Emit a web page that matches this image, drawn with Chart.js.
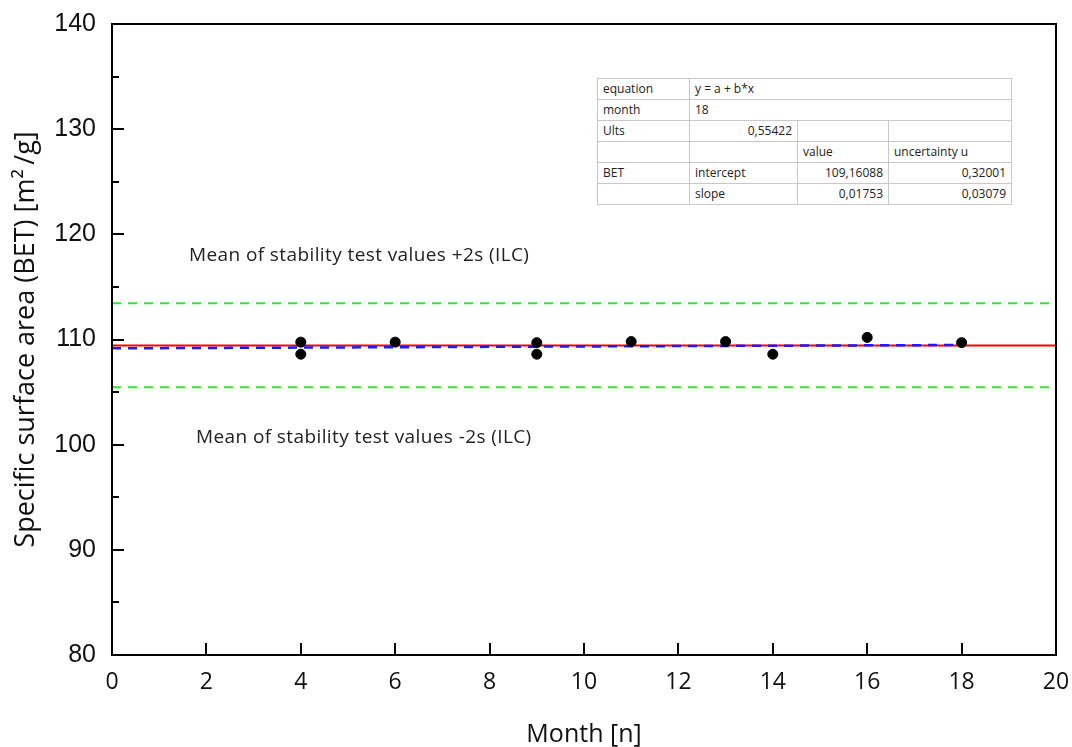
<!DOCTYPE html>
<html>
<head>
<meta charset="utf-8">
<script src="https://cdn.jsdelivr.net/npm/chart.js@4.4.1/dist/chart.umd.min.js"></script>
<style>
  html, body { margin: 0; padding: 0; background: #fff; }
  #wrap { position: relative; width: 1072px; height: 747px; }
  canvas { display: block; }
  .note { position: absolute; font-family: "Open Sans", sans-serif; font-size: 19px; letter-spacing: 0.4px; color: #222; white-space: nowrap; }
  #fit-table { position: absolute; left: 597px; top: 78px; border-collapse: collapse; border: 1px solid #000;
    font-family: "Open Sans", sans-serif; font-size: 12px; color: #222; background: #fff; }
  #fit-table td { border: 1px solid #c8c8c8; height: 20px; padding: 0 5px; line-height: 12px; }
  #fit-table td.num { text-align: right; }
</style>
</head>
<body>
<div id="wrap">
  <canvas id="chart" width="1072" height="747"></canvas>
  <div class="note" style="left:189px; top:241px;">Mean of stability test values +2s (ILC)</div>
  <div class="note" style="left:196px; top:423px;">Mean of stability test values -2s (ILC)</div>
  <table id="fit-table">
    <tr><td style="width:81px">equation</td><td colspan="3">y = a + b*x</td></tr>
    <tr><td>month</td><td colspan="3">18</td></tr>
    <tr><td>Ults</td><td class="num" style="width:97px">0,55422</td><td style="width:80px"></td><td style="width:112px"></td></tr>
    <tr><td></td><td></td><td>value</td><td>uncertainty u</td></tr>
    <tr><td>BET</td><td>intercept</td><td class="num">109,16088</td><td class="num">0,32001</td></tr>
    <tr><td></td><td>slope</td><td class="num">0,01753</td><td class="num">0,03079</td></tr>
  </table>
</div>
<script>
// measured stability values (month, BET)
const months = [4, 4, 6, 9, 9, 11, 13, 14, 16, 18];
const betValues = [109.75, 108.6, 109.75, 109.7, 108.6, 109.8, 109.8, 108.6, 110.2, 109.7];

// reference lines
const meanValue = 109.42;
const upperLimit = 113.45;
const lowerLimit = 105.45;
const fitX = [0, 18];
const fitY = [109.16, 109.48];

const xTicks = [0, 2, 4, 6, 8, 10, 12, 14, 16, 18, 20];
const yTicks = [80, 90, 100, 110, 120, 130, 140];

const hline = (v) => [{ x: 0, y: v }, { x: 20, y: v }];

// box frame + inward tick marks
const framePlugin = {
  id: "frame",
  afterDraw(chart) {
    const { ctx, chartArea: a, scales: { x, y } } = chart;
    ctx.save();
    ctx.strokeStyle = "#000";
    ctx.lineWidth = 2;
    ctx.strokeRect(a.left, a.top, a.right - a.left, a.bottom - a.top);
    ctx.beginPath();
    x.ticks.forEach((t) => {
      const px = Math.round(x.getPixelForValue(t.value));
      ctx.moveTo(px, a.bottom);
      ctx.lineTo(px, a.bottom - 12);
    });
    y.ticks.forEach((t) => {
      const py = Math.round(y.getPixelForValue(t.value));
      const len = t.value % 10 === 0 ? 12 : 7;
      ctx.moveTo(a.left, py);
      ctx.lineTo(a.left + len, py);
    });
    ctx.stroke();
    ctx.restore();
  },
};

new Chart(document.getElementById("chart"), {
  type: "scatter",
  data: {
    datasets: [
      {
        label: "+2s",
        data: hline(upperLimit),
        showLine: true,
        borderColor: "#2ee62e",
        borderWidth: 2,
        borderDash: [9, 7],
        pointRadius: 0,
        order: 4,
      },
      {
        label: "-2s",
        data: hline(lowerLimit),
        showLine: true,
        borderColor: "#2ee62e",
        borderWidth: 2,
        borderDash: [9, 7],
        pointRadius: 0,
        order: 3,
      },
      {
        label: "mean",
        data: hline(meanValue),
        showLine: true,
        borderColor: "#ff0000",
        borderWidth: 2,
        pointRadius: 0,
        order: 2,
      },
      {
        label: "fit",
        data: fitX.map((v, i) => ({ x: v, y: fitY[i] })),
        showLine: true,
        borderColor: "#1a1aff",
        borderWidth: 2.5,
        borderDash: [9, 7],
        pointRadius: 0,
        order: 1,
      },
      {
        label: "BET",
        data: months.map((m, i) => ({ x: m, y: betValues[i] })),
        backgroundColor: "#000",
        borderColor: "#000",
        pointRadius: 5,
        pointHoverRadius: 5,
        order: 0,
      },
    ],
  },
  options: {
    responsive: false,
    animation: false,
    events: [],
    layout: { padding: { top: 24, right: 16, bottom: 0, left: 0 } },
    plugins: { legend: { display: false }, tooltip: { enabled: false } },
    scales: {
      x: {
        type: "linear",
        min: 0,
        max: 20,
        afterBuildTicks: (s) => { s.ticks = xTicks.map((v) => ({ value: v })); },
        afterFit: (s) => { s.height = 92; s.paddingLeft = 0; s.paddingRight = 0; },
        grid: { display: false, drawTicks: false },
        border: { display: false },
        ticks: { color: "#111", padding: 14, maxRotation: 0, font: { family: "Open Sans", size: 23 } },
        title: {
          display: true,
          text: "Month [n]",
          color: "#111",
          font: { family: "Open Sans", size: 25, lineHeight: 1 },
          padding: { top: 4, bottom: 0 },
        },
      },
      y: {
        min: 80,
        max: 140,
        ticks: {
          stepSize: 5,
          color: "#111",
          padding: 16,
          font: { family: "Liberation Sans", size: 25 },
          callback: (v) => (yTicks.includes(v) ? v : ""),
        },
        afterFit: (s) => { s.width = 112; s.paddingTop = 0; s.paddingBottom = 0; },
        grid: { display: false, drawTicks: false },
        border: { display: false },
        title: {
          display: true,
          text: "Specific surface area (BET) [m\u00B2\u2009/g]",
          color: "#111",
          font: { family: "Open Sans", size: 27 },
          padding: { top: 10, bottom: 0 },
        },
      },
    },
  },
  plugins: [framePlugin],
});
</script>
</body>
</html>
